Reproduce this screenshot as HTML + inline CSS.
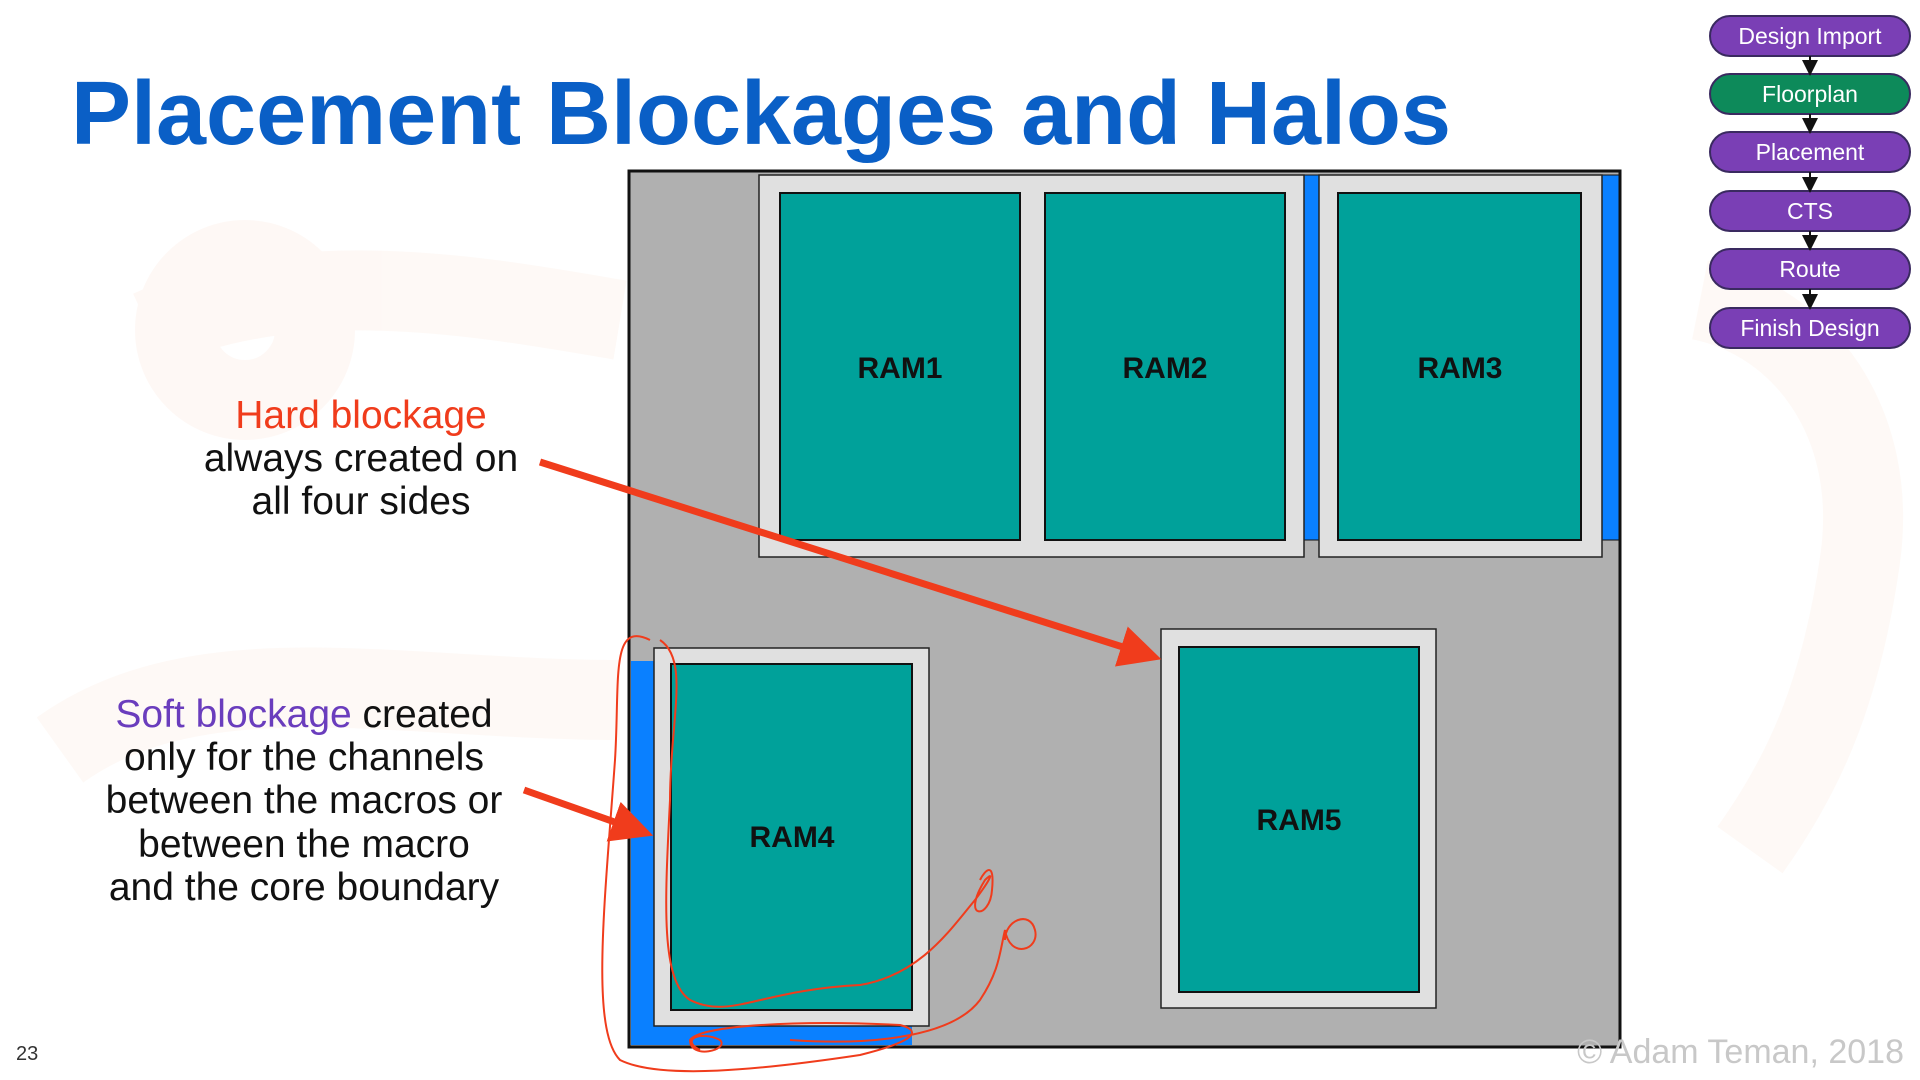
<!DOCTYPE html>
<html><head><meta charset="utf-8"><style>
html,body{margin:0;padding:0;background:#fff;}
svg{display:block;font-family:"Liberation Sans",sans-serif;}
</style></head><body>
<svg width="1920" height="1080" viewBox="0 0 1920 1080">
<defs>
<marker id="ah" markerWidth="6" markerHeight="6" refX="4" refY="3" orient="auto" markerUnits="strokeWidth"><path d="M0,0 L6,3 L0,6 z" fill="#f03c1c"/></marker>
<marker id="fa" markerWidth="8" markerHeight="8" refX="4" refY="4" orient="auto"><path d="M0,0 L8,4 L0,8 z" fill="#111"/></marker>
</defs>
<rect width="1920" height="1080" fill="#fff"/>
<g opacity="0.045" fill="none" stroke="#f07030" stroke-width="80">
<path d="M150,330 C300,260 500,300 620,320"/>
<circle cx="245" cy="330" r="70"/>
<path d="M60,750 C200,650 400,700 620,700"/>
<path d="M1700,300 C1800,320 1880,420 1860,560 C1840,700 1800,780 1750,850"/>
</g>
<text x="71" y="144" font-size="90" font-weight="bold" fill="#0a5fc6" textLength="1380" lengthAdjust="spacingAndGlyphs">Placement Blockages and Halos</text>
<rect x="629" y="171" width="991" height="876" fill="#b0b0b0" stroke="#111" stroke-width="3"/>
<rect x="1304" y="175" width="15" height="365" fill="#0a80ff" stroke="#111" stroke-width="1"/>
<rect x="1602" y="175" width="17" height="365" fill="#0a80ff" stroke="#111" stroke-width="1"/>
<rect x="631" y="661" width="23" height="384" fill="#0a80ff"/>
<rect x="631" y="1026" width="281" height="19" fill="#0a80ff"/>
<g fill="#e0e0e0" stroke="#222" stroke-width="1.5">
<rect x="759" y="175" width="545" height="382"/>
<rect x="1319" y="175" width="283" height="382"/>
<rect x="654" y="648" width="275" height="378"/>
<rect x="1161" y="629" width="275" height="379"/>
</g>
<g fill="#00a19a" stroke="#111" stroke-width="2">
<rect x="780" y="193" width="240" height="347"/>
<rect x="1045" y="193" width="240" height="347"/>
<rect x="1338" y="193" width="243" height="347"/>
<rect x="671" y="664" width="241" height="346"/>
<rect x="1179" y="647" width="240" height="345"/>
</g>
<g font-size="30" font-weight="bold" fill="#111" text-anchor="middle">
<text x="900" y="378">RAM1</text>
<text x="1165" y="378">RAM2</text>
<text x="1460" y="378">RAM3</text>
<text x="792" y="847">RAM4</text>
<text x="1299" y="830">RAM5</text>
</g>
<g font-size="39" text-anchor="middle" fill="#111">
<text x="361" y="428" fill="#f03c1c">Hard blockage</text>
<text x="361" y="471">always created on</text>
<text x="361" y="514">all four sides</text>
<text x="304" y="727"><tspan fill="#6a3dbd">Soft blockage</tspan> created</text>
<text x="304" y="770">only for the channels</text>
<text x="304" y="813">between the macros or</text>
<text x="304" y="857">between the macro</text>
<text x="304" y="900">and the core boundary</text>
</g>
<line x1="540" y1="462" x2="1148" y2="655" stroke="#f03c1c" stroke-width="7" marker-end="url(#ah)"/>
<line x1="524" y1="790" x2="640" y2="831" stroke="#f03c1c" stroke-width="7" marker-end="url(#ah)"/>
<g fill="none" stroke="#f03c1c" stroke-width="2">
<path d="M650,640 C610,620 620,680 615,760 C605,900 590,1030 620,1060 C660,1080 760,1070 860,1055 C920,1040 920,1030 900,1025 C800,1020 700,1025 690,1040 C690,1060 730,1050 720,1040 C700,1030 680,1040 700,1050"/>
<path d="M660,640 C690,660 670,720 670,800 C665,900 660,980 690,1000 C730,1020 760,990 860,985 C920,975 950,930 975,900 C990,880 995,870 985,880 C960,920 990,920 992,890 C995,860 985,870 980,880"/>
<path d="M790,1040 C860,1045 950,1040 980,1000 C1000,970 1000,950 1005,930 C1010,960 1040,950 1035,930 C1030,910 1005,920 1005,940"/>
</g>
<g stroke="#3a2a60" stroke-width="2">
<rect x="1710" y="16" width="200" height="40" rx="20" fill="#7a3fb5"/>
<rect x="1710" y="74" width="200" height="40" rx="20" fill="#0d8a5a"/>
<rect x="1710" y="132" width="200" height="40" rx="20" fill="#7a3fb5"/>
<rect x="1710" y="191" width="200" height="40" rx="20" fill="#7a3fb5"/>
<rect x="1710" y="249" width="200" height="40" rx="20" fill="#7a3fb5"/>
<rect x="1710" y="308" width="200" height="40" rx="20" fill="#7a3fb5"/>
</g>
<g stroke="#111" stroke-width="2" marker-end="url(#fa)">
<line x1="1810" y1="56" x2="1810" y2="68"/>
<line x1="1810" y1="114" x2="1810" y2="126"/>
<line x1="1810" y1="172" x2="1810" y2="185"/>
<line x1="1810" y1="231" x2="1810" y2="243"/>
<line x1="1810" y1="289" x2="1810" y2="302"/>
</g>
<g font-size="23" text-anchor="middle" fill="#fff">
<text x="1810" y="44">Design Import</text>
<text x="1810" y="102">Floorplan</text>
<text x="1810" y="160">Placement</text>
<text x="1810" y="219">CTS</text>
<text x="1810" y="277">Route</text>
<text x="1810" y="336">Finish Design</text>
</g>
<text x="16" y="1060" font-size="20" fill="#333">23</text>
<text x="1904" y="1063" font-size="34" fill="#c8c8c8" text-anchor="end">© Adam Teman, 2018</text>
</svg>
</body></html>
